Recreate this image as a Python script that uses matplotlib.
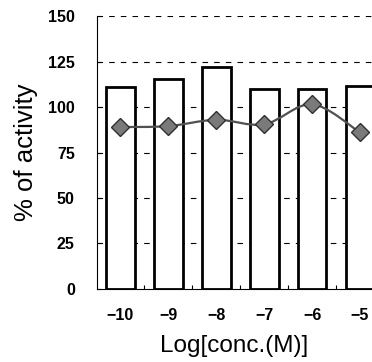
import numpy as np
import matplotlib
matplotlib.use("Agg")
import matplotlib.pyplot as plt
from matplotlib.path import Path
from matplotlib.patches import PathPatch

plt.rcParams['font.family'] = ['Liberation Sans', 'DejaVu Sans']

# data
conc = [-10, -9, -8, -7, -6, -5]
bar_vals = [111, 115.5, 122, 110, 110, 111.5]
line_vals = [89, 89.5, 93, 90.5, 101.5, 86]
yticks = [0, 25, 50, 75, 100, 125, 150]


def smooth_path(x, y):
    # Excel style smoothed line: cubic bezier through the points
    x = np.asarray(x, float)
    y = np.asarray(y, float)
    n = len(x)
    verts = [(x[0], y[0])]
    codes = [Path.MOVETO]
    for i in range(n - 1):
        i0 = max(i - 1, 0)
        i3 = min(i + 2, n - 1)
        c1 = (x[i] + (x[i + 1] - x[i0]) / 6, y[i] + (y[i + 1] - y[i0]) / 6)
        c2 = (x[i + 1] - (x[i3] - x[i]) / 6, y[i + 1] - (y[i3] - y[i]) / 6)
        verts += [c1, c2, (x[i + 1], y[i + 1])]
        codes += [Path.CURVE4] * 3
    return Path(verts, codes)


fig = plt.figure(figsize=(3.72, 3.62), dpi=100)
ax = fig.add_axes([0.2608, 0.2017, 0.7392, 0.754])

ax.set_ylim(0, 150)
ax.set_xlim(-10.49, -4.75)

for v in yticks[1:]:
    ax.axhline(v, color='black', lw=0.8, ls=(0, (5, 5.5)), zorder=1)

ax.bar(conc, bar_vals, width=0.6, color='white', edgecolor='black',
       linewidth=2.0, zorder=2)

ax.add_patch(PathPatch(smooth_path(conc, line_vals), facecolor='none',
                       edgecolor='#505050', lw=1.6, zorder=3))
ax.plot(conc, line_vals, ls='none', marker='D', ms=9, mfc='#7a7a7a',
        mec='#303030', mew=1.0, zorder=4, clip_on=False)

for s in ['top', 'right']:
    ax.spines[s].set_visible(False)
ax.spines['left'].set_linewidth(0.8)
ax.spines['bottom'].set_linewidth(0.8)

ax.set_yticks(yticks)
ax.set_yticklabels([str(t) for t in yticks], fontsize=11.5, fontweight='bold')
ax.set_xticks(conc)
ax.set_xticklabels(['\u2212' + str(-c) for c in conc], fontsize=11.5,
                   fontweight='bold')
ax.set_xticks([c + 0.5 for c in conc[:-1]], minor=True)
ax.tick_params(axis='y', direction='in', length=3, width=0.8, pad=16)
ax.tick_params(axis='x', which='major', length=0, pad=14)
ax.tick_params(axis='x', which='minor', direction='in', length=3, width=0.8)

ax.set_ylabel('% of activity', fontsize=18.5, labelpad=7)
ax.set_xlabel('Log[conc.(M)]', fontsize=17.5, labelpad=8)

fig.savefig('out.png', dpi=100)
